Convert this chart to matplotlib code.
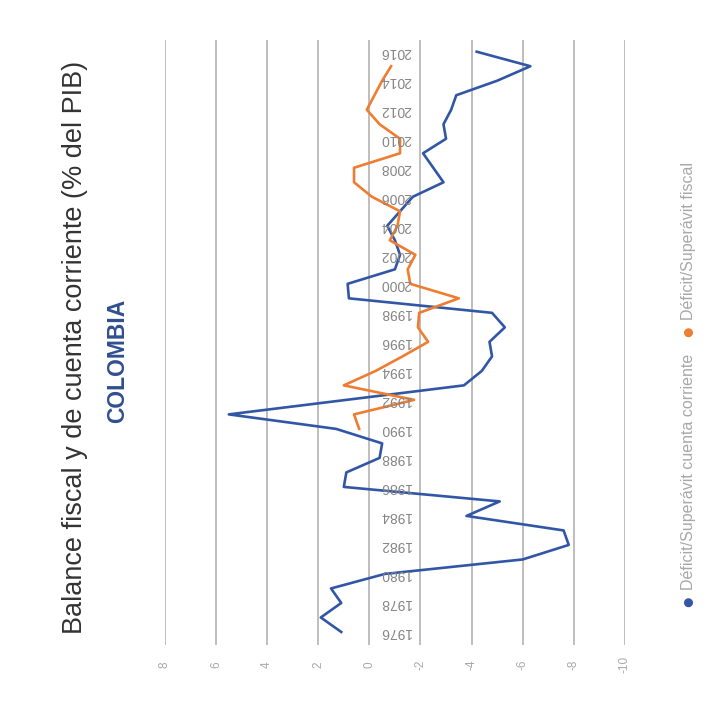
import matplotlib.pyplot as plt

# Datos (% del PIB)
anios_cc = list(range(1976, 2017))
cuenta_corriente = [1.1, 1.9, 1.1, 1.5, -0.6, -6.0, -7.8, -7.6, -3.8, -5.1,
                    1.0, 0.9, -0.4, -0.5, 1.3, 5.5, 0.9, -3.7, -4.4, -4.8,
                    -4.7, -5.3, -4.8, 0.8, 0.85, -1.0, -1.2, -1.0, -0.7, -1.2,
                    -1.7, -2.9, -2.5, -2.1, -3.0, -2.9, -3.2, -3.4, -5.0, -6.3,
                    -4.2]

anios_fiscal = list(range(1990, 2016))
fiscal = [0.4, 0.6, -1.75, 1.0, -0.25, -1.3, -2.3, -1.9, -1.95, -3.5,
          -1.6, -1.5, -1.8, -0.8, -1.1, -1.2, -0.1, 0.6, 0.6, -1.2,
          -1.2, -0.4, 0.1, -0.2, -0.5, -0.85]

etiquetas_anios = list(range(1976, 2017, 2))
valores_eje = list(range(-10, 9, 2))

azul = '#3256a6'
naranja = '#ee7d31'
gris = '#a8a8a8'

plt.rcParams['font.family'] = ['Liberation Sans', 'DejaVu Sans']

fig = plt.figure(figsize=(7.2, 7.1), dpi=100)
ax = fig.add_axes([0.229, 0.0915, 0.639, 0.852])

# El gráfico está girado 90°: años en vertical, valores en horizontal
ax.plot(cuenta_corriente, anios_cc, color=azul, linewidth=1.9)
ax.plot(fiscal, anios_fiscal, color=naranja, linewidth=1.9)

ax.set_xlim(8, -10)
ax.set_ylim(1975.1, 2016.8)
ax.set_xticks(valores_eje)
ax.set_xticklabels([str(v) for v in valores_eje], rotation=90, color=gris, fontsize=8.5)
for lab in ax.get_xticklabels():
    lab.set_va('center')
ax.tick_params(axis='x', length=0, pad=14)
ax.set_yticks([])
ax.grid(axis='x', color='#c2bdbd', linewidth=1.4)
ax.set_axisbelow(True)
for s in ax.spines.values():
    s.set_visible(False)

# Etiquetas de años (giradas 180°)
for a in etiquetas_anios:
    ax.text(-0.42, a, str(a), rotation=180, ha='left', va='center',
            fontsize=10, color='#858585')

# Títulos
fig.text(75 / 720, 1 - 347 / 710, 'Balance fiscal y de cuenta corriente (% del PIB)',
         rotation=90, ha='center', va='center', fontsize=19.5, color='#333333')
fig.text(118 / 720, 1 - 361 / 710, 'COLOMBIA', rotation=90, ha='center', va='center',
         fontsize=16.5, fontweight='bold', color='#2f4f8f')

# Leyenda girada
fig.text(688 / 720, 1 - 601 / 710, '●', rotation=90, ha='center', va='center',
         fontsize=15, color=azul)
fig.text(689 / 720, 1 - 590 / 710, 'Déficit/Superávit cuenta corriente', rotation=90,
         ha='center', va='bottom', fontsize=11.5, color=gris)
fig.text(688 / 720, 1 - 331 / 710, '●', rotation=90, ha='center', va='center',
         fontsize=15, color=naranja)
fig.text(689 / 720, 1 - 320 / 710, 'Déficit/Superávit fiscal', rotation=90,
         ha='center', va='bottom', fontsize=11.5, color=gris)

plt.savefig('out.png', dpi=100, facecolor='white')
